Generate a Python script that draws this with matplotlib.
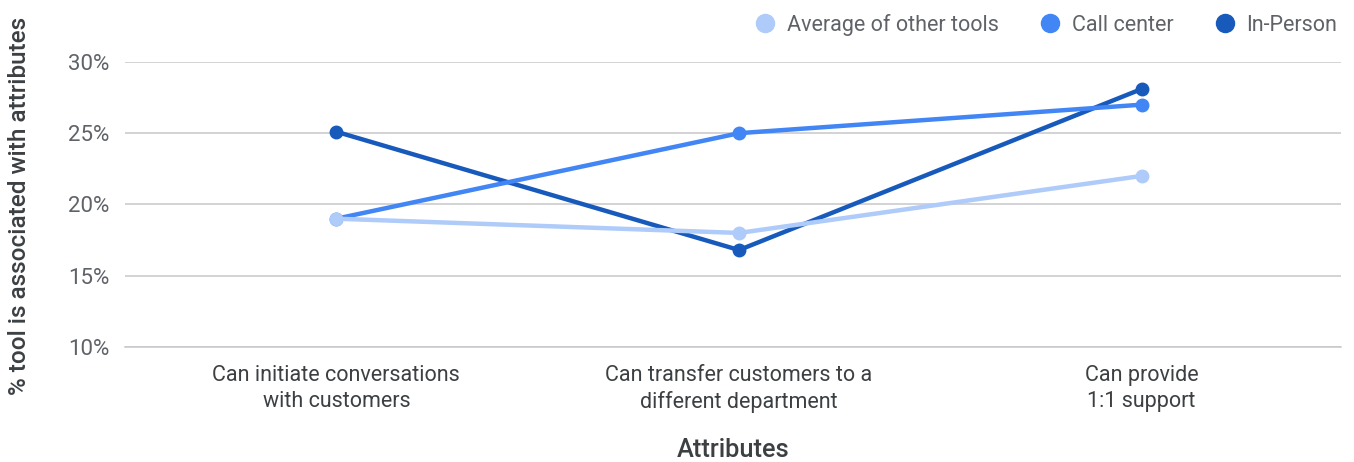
import matplotlib.pyplot as plt
from matplotlib.lines import Line2D
from matplotlib.ticker import FuncFormatter

plt.rcParams["font.family"] = ["Roboto", "DejaVu Sans"]

categories = [
    "Can initiate conversations\nwith customers",
    "Can transfer customers to a\ndifferent department",
    "Can provide\n1:1 support",
]
series_names = ["Average of other tools", "Call center", "In-Person"]
average_other = [19.0, 18.0, 22.0]
call_center = [19.0, 25.0, 27.0]
in_person = [25.1, 16.8, 28.1]
y_ticks = [10, 15, 20, 25, 30]

colors = ["#aecbfa", "#4285f4", "#185abc"]
text_gray = "#5f6368"
dark_gray = "#3c4043"

fig = plt.figure(figsize=(13.54, 4.62), dpi=100)
ax = fig.add_axes([0.0923, 0.249, 0.8981, 0.617])

x = list(range(len(categories)))
for vals, col, z in [(in_person, colors[2], 3), (call_center, colors[1], 4), (average_other, colors[0], 5)]:
    ax.plot(x, vals, color=col, lw=3.2, marker="o", ms=9, zorder=z, solid_capstyle="round")

ax.set_xlim(-0.525, 2.495)
ax.set_ylim(10, 30)
ax.set_yticks(y_ticks)
ax.yaxis.set_major_formatter(FuncFormatter(lambda v, _: f"{v:.0f}%"))
ax.set_xticks(x)
ax.set_xticklabels(categories, fontsize=15.5, color=dark_gray, linespacing=1.3)
ax.tick_params(axis="y", length=0, pad=11, labelsize=16, labelcolor=text_gray)
ax.tick_params(axis="x", length=0, pad=13)
ax.grid(axis="y", color="#c8c8cc", lw=1.1)
ax.set_axisbelow(True)
for s in ["top", "right", "left"]:
    ax.spines[s].set_visible(False)
ax.spines["bottom"].set_color("#c8c8cc")
ax.spines["bottom"].set_linewidth(1.1)

ax.set_ylabel("% tool is associated with attributes", fontsize=17.5, color=dark_gray,
              fontweight="medium")
ax.yaxis.set_label_coords(-0.077, 0.495)
ax.set_xlabel("Attributes", fontsize=18.3, color=dark_gray, fontweight="medium")
ax.xaxis.set_label_coords(0.5, -0.32)

handles = [Line2D([], [], ls="", marker="o", ms=13, color=c) for c in colors]
fig.legend(handles, series_names, loc="upper right", bbox_to_anchor=(1.002, 1.012), ncol=3,
           frameon=False, fontsize=15.5, labelcolor=text_gray, handletextpad=0.4,
           columnspacing=1.8, handlelength=1.2)

fig.savefig("out.png", dpi=100)
